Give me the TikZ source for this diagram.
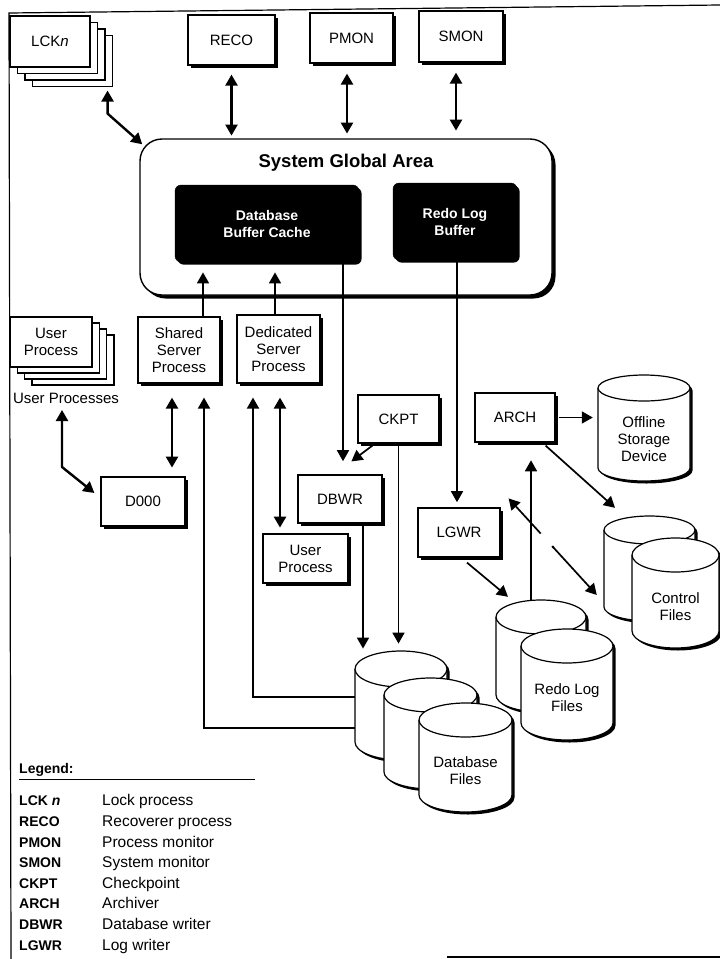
\documentclass[tikz,border=0pt]{standalone}
\usepackage{fontspec}
\setmainfont{Liberation Sans}
\usetikzlibrary{arrows.meta,shadows}

\newcommand\boxfont{\fontsize{15}{17}\selectfont}
\newcommand\bufffont{\fontsize{14}{17}\selectfont\bfseries}
\newcommand\legfont{\fontsize{15.5}{17}\selectfont}
\newcommand\legabfont{\fontsize{14}{17}\selectfont\bfseries}

% cylinder: name, centre x, y of top ellipse centre, half width, body height, ellipse half height, label
\newcommand\drum[7]{%
  \fill[black] (#2-#4+2.5,#3-2.5) -- (#2-#4+2.5,#3-#5-2.5)
     arc[start angle=180,end angle=360,x radius=#4,y radius=#6] -- (#2+#4+2.5,#3-2.5)
     arc[start angle=0,end angle=180,x radius=#4,y radius=#6] -- cycle;
  \filldraw[drumline] (#2-#4,#3) -- (#2-#4,#3-#5)
     arc[start angle=180,end angle=360,x radius=#4,y radius=#6] -- (#2+#4,#3)
     arc[start angle=0,end angle=180,x radius=#4,y radius=#6] -- cycle;
  \draw[drumline] (#2-#4,#3) arc[start angle=180,end angle=360,x radius=#4,y radius=#6];
  \node[minimum width=2*#4pt, minimum height=#5pt] (#1) at (#2,#3-#5/2) {};
  \node[align=center, font=\boxfont] (#1t) at (#2,#3-#5/2-#6/2-5) {#7};
}

\begin{document}
\begin{tikzpicture}[x=1pt,y=1pt,
  every node/.style={inner sep=0pt},
  >={Triangle[length=11pt,width=12pt]},
  shade3/.style={drop shadow={shadow xshift=2.6pt,shadow yshift=-2.6pt,fill=black,opacity=1}},
  proc/.style={draw, fill=white, line width=1.2pt, align=center, font=\boxfont, shade3},
  stackbox/.style={draw, fill=white, line width=1.1pt, align=center, font=\boxfont},
  buffer/.style={draw=black, fill=black, rounded corners=6pt, text=white, align=center, font=\bufffont, shade3},
  drumline/.style={draw=black, fill=white, line width=1.2pt},
  flow/.style={line width=1.7pt, ->},
  feed/.style={line width=2pt, ->},
  both/.style={line width=2.4pt, <->},
  legab/.style={anchor=base west, font=\legabfont},
  legde/.style={anchor=base west, font=\legfont}
]
\useasboundingbox (0,0) rectangle (720,-959);

% frame
\draw[line width=1.2pt] (720,-5) -- (9,-13) -- (11,-959);
\draw[line width=1.2pt] (447,-957) -- (720,-957);

% lock processes (stacked)
\node[stackbox, minimum width=80pt, minimum height=51pt] (lck3) at (72.5,-61) {};
\node[stackbox, minimum width=80pt, minimum height=51pt] (lck2) at (65,-54.5) {};
\node[stackbox, minimum width=80pt, minimum height=51pt] (lck1) at (57.5,-48) {};
\node[stackbox, minimum width=80pt, minimum height=51pt] (lck) at (50,-41.5) {LCK\textit{n}};

% background processes on top
\node[proc, minimum width=87pt, minimum height=50pt] (reco) at (231.5,-40) {RECO};
\node[proc, minimum width=83pt, minimum height=50pt] (pmon) at (351.5,-38) {PMON};
\node[proc, minimum width=84pt, minimum height=51pt] (smon) at (461,-36.5) {SMON};

% system global area
\node[draw, fill=white, line width=1.4pt, rounded corners=22pt, minimum width=412pt, minimum height=156pt,
      drop shadow={shadow xshift=3.5pt,shadow yshift=-3.5pt,fill=black,opacity=1}] (sga) at (346,-217) {};
\node[font=\fontsize{18.5}{20}\selectfont\bfseries] (sgatitle) at (346,-163) {System Global Area};
\node[buffer, minimum width=184pt, minimum height=77pt] (dbbc) at (267,-223.5) {Database\\Buffer Cache};
\node[buffer, minimum width=124pt, minimum height=77pt] (rlb) at (455,-221.5) {Redo Log\\Buffer};

% user processes (stacked)
\node[stackbox, minimum width=82pt, minimum height=50pt] (usr3) at (73,-360) {};
\node[stackbox, minimum width=82pt, minimum height=50pt] (usr2) at (65.7,-354) {};
\node[stackbox, minimum width=82pt, minimum height=50pt] (usr1) at (58.4,-348) {};
\node[stackbox, minimum width=82pt, minimum height=50pt] (usr) at (51,-342) {User\\Process};
\node[font=\boxfont] (upl) at (66,-398) {User Processes};

% server processes
\node[proc, minimum width=82pt, minimum height=66pt] (shared) at (179,-350) {Shared\\Server\\Process};
\node[proc, minimum width=83pt, minimum height=68pt] (ded) at (278.5,-349) {Dedicated\\Server\\Process};

% other processes
\node[proc, minimum width=84pt, minimum height=49pt] (d000) at (143,-501.5) {D000};
\node[proc, minimum width=81pt, minimum height=48pt] (ckpt) at (398.5,-419) {CKPT};
\node[proc, minimum width=84pt, minimum height=48pt] (dbwr) at (340,-499) {DBWR};
\node[proc, minimum width=85pt, minimum height=49pt] (up2) at (305.5,-558.5) {User\\Process};
\node[proc, minimum width=80pt, minimum height=49pt] (arch) at (515,-417.5) {ARCH};
\node[proc, minimum width=82pt, minimum height=49pt] (lgwr) at (459,-532.5) {LGWR};

% storage
\drum{off}{644}{-388}{46}{80}{13}{Offline\\Storage\\Device}
\drum{cf1}{649.5}{-530}{45.5}{77}{14}{}
\drum{cf2}{675.5}{-555}{43.5}{76}{17}{Control\\Files}
\drum{rl1}{541}{-617}{45}{78}{17}{}
\drum{rl2}{567}{-646}{46}{77}{17}{Redo Log\\Files}
\drum{db1}{401}{-669}{46}{73}{18}{}
\drum{db2}{430.5}{-695}{46.5}{77}{17}{}
\drum{db3}{465.5}{-720}{46.5}{75}{17}{Database\\Files}

% connectors to the SGA
\draw[both] ([xshift=-5.5pt,yshift=-3.5pt]lck3.south east) -- ++(0,-23) -- ([xshift=3pt,yshift=-6pt]sga.north west);
\draw[both] ([yshift=-9pt]reco.south) -- ++(0,-61);
\draw[both] ([xshift=-4.5pt,yshift=-10pt]pmon.south) -- ++(0,-60);
\draw[both] ([xshift=-5pt,yshift=-10pt]smon.south) -- ++(0,-58);
\draw[flow] ([xshift=24pt]shared.north) -- ++(0,44);
\draw[flow] ([xshift=-3.5pt]ded.north) -- ++(0,42);

% buffers to writers
\draw[flow] ([xshift=76pt]dbbc.south) -- ++(0,-199);
\draw[flow] ([xshift=2pt]rlb.south) -- ++(0,-242);
\draw[flow] ([xshift=15pt,yshift=-2pt]ckpt.south west) -- ([xshift=54pt,yshift=13pt]dbwr.north west);

% dispatcher and user process links
\draw[both] ([xshift=-4pt,yshift=-12pt]upl.center) -- ++(0,-57) -- ([xshift=-6pt,yshift=8.5pt]d000.west);
\draw[both] ([xshift=-7pt,yshift=-14pt]shared.south) -- ++(0,-70);
\draw[both] ([xshift=1.5pt,yshift=-14pt]ded.south) -- ++(0,-130);

% datafiles to server processes
\draw[feed] ([yshift=-22.5pt]db1.west) -| ([xshift=25pt,yshift=-14pt]shared.south);
\draw[feed] ([yshift=8.5pt]db1.west) -| ([xshift=-25.5pt,yshift=-14pt]ded.south);

% writers to datafiles
\draw[flow] ([xshift=23pt]dbwr.south) -- ++(0,-125);
\draw[flow] (ckpt.south) -- ++(0,-200);

% archiver and log writer
\draw[flow] ([xshift=3pt]arch.east) -- ([xshift=-5pt]arch.east -| off.west);
\draw[flow] ([xshift=-10pt,yshift=-3pt]arch.south east) -- ([xshift=-34.5pt,yshift=22pt]cf1.north);
\draw[flow] ([xshift=-10pt,yshift=16.5pt]rl1.north) -- ++(0,140);
\draw[flow] ([xshift=8pt,yshift=-5pt]lgwr.south) -- ([xshift=-33pt,yshift=20pt]rl1.north);
\draw[line width=1.7pt, <->, dash pattern=on 37pt off 17pt on 200pt]
  ([xshift=8pt,yshift=9pt]lgwr.north east) -- ([xshift=-7pt,yshift=-26.5pt]cf1.west);
\fill (553,-547) circle (1.3pt);

% legend
\node[legab] (leg) at (19,-773) {Legend:};
\draw[line width=1pt] (19,-779) -- (255,-779);
\node[legab] (la1) at (19,-805) {LCK \textit{n}};
\node[legab] (la2) at (19,-826) {RECO};
\node[legab] (la3) at (19,-847) {PMON};
\node[legab] (la4) at (19,-867.5) {SMON};
\node[legab] (la5) at (19,-888) {CKPT};
\node[legab] (la6) at (19,-908.5) {ARCH};
\node[legab] (la7) at (19,-929.5) {DBWR};
\node[legab] (la8) at (19,-950) {LGWR};
\node[legde] (ld1) at (102,-805) {Lock process};
\node[legde] (ld2) at (102,-826) {Recoverer process};
\node[legde] (ld3) at (102,-847) {Process monitor};
\node[legde] (ld4) at (102,-867.5) {System monitor};
\node[legde] (ld5) at (102,-888) {Checkpoint};
\node[legde] (ld6) at (102,-908.5) {Archiver};
\node[legde] (ld7) at (102,-929.5) {Database writer};
\node[legde] (ld8) at (102,-950) {Log writer};
\end{tikzpicture}
\end{document}
